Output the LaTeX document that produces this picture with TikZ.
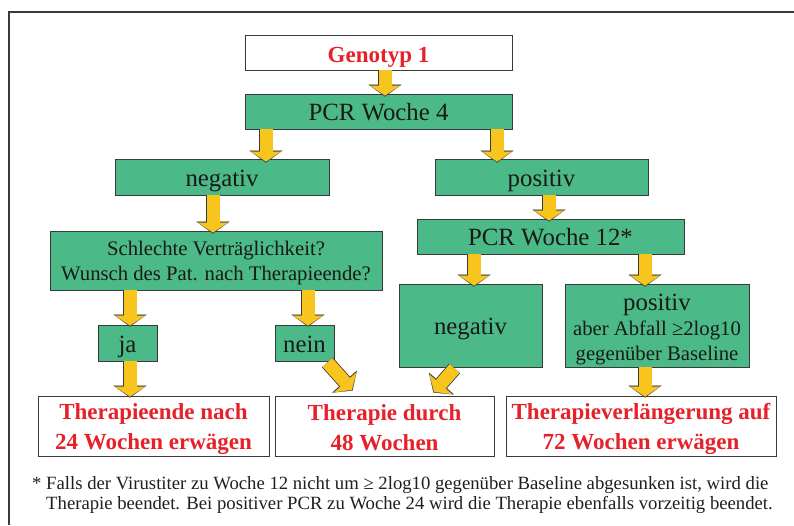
\documentclass[tikz,border=0pt]{standalone}
\usepackage{fontspec}
\setmainfont{Liberation Serif}
\usetikzlibrary{arrows.meta}

\definecolor{boxgreen}{HTML}{4BBA88}
\definecolor{arrowyellow}{HTML}{F7C51E}
\definecolor{titlered}{HTML}{E62129}
\definecolor{linegray}{HTML}{3A3A3A}

% struts to set the baselines of the two- and three-line boxes
\newcommand{\upstrut}[1]{\rule{0pt}{#1}}
\newcommand{\downstrut}[1]{\rule[-#1]{0pt}{#1}}

\tikzset{
  greenbox/.style={draw=linegray, line width=0.9pt, fill=boxgreen, inner sep=0pt,
    align=center, text=black!90, font=\fontsize{24.8}{28}\selectfont},
  redbox/.style={draw=linegray, line width=0.9pt, fill=white, inner sep=0pt,
    align=center, text=titlered, font=\fontsize{23}{30}\selectfont\bfseries},
  oneline/.style={text height=21pt, text depth=2.5pt},
  yarrow/.style={draw=arrowyellow, line width=13pt, shorten >=1pt,
    -{Triangle[length=10pt, width=30pt, line width=0.1pt]},
    preaction={draw=linegray, line width=14.6pt, shorten >=0pt,
      -{Triangle[length=12pt, width=33pt, line width=0.1pt]}}},
}

\begin{document}
\begin{tikzpicture}[x=1pt, y=-1pt]

% GLOBAL SETTINGS
\useasboundingbox (0,0) rectangle (794,525);
\fill[white] (0,0) rectangle (794,525);
\draw[linegray, line width=1.5pt] (9,525) -- (9,12) -- (794,12);

% BOXES
\node[redbox, text height=21pt, text depth=2pt,
  minimum width=267pt, minimum height=35pt] (geno) at (378.5,52.5) {Genotyp 1};
\node[greenbox, oneline, minimum width=267pt, minimum height=35pt] (pcr4) at (378.5,111.5) {PCR Woche 4};
\node[greenbox, oneline, minimum width=214pt, minimum height=36pt] (neg1) at (222,177) {negativ};
\node[greenbox, oneline, minimum width=213pt, minimum height=36pt] (pos1) at (541.5,177) {positiv};
\node[greenbox, minimum width=332pt, minimum height=59pt,
  font=\fontsize{20.7}{25}\selectfont] (schl) at (216,260.5)
  {\upstrut{18.5pt}Schlechte Verträglichkeit?\\Wunsch des Pat. nach Therapieende?\downstrut{4.5pt}};
\node[greenbox, oneline, minimum width=267pt, minimum height=35pt] (pcr12) at (550.5,236.5) {PCR Woche 12*};
\node[greenbox, oneline, minimum width=143pt, minimum height=83pt] (neg2) at (470.5,325.5) {negativ};
\node[greenbox, minimum width=184pt, minimum height=83pt,
  font=\fontsize{20.7}{25}\selectfont] (pos2) at (657,325.5)
  {\upstrut{23.5pt}{\fontsize{24.8}{25}\selectfont positiv}\\aber Abfall ≥2log10\\gegenüber Baseline\downstrut{4.5pt}};
\node[greenbox, oneline, minimum width=59pt, minimum height=36pt] (ja) at (127.5,343) {ja};
\node[greenbox, oneline, minimum width=59pt, minimum height=36pt] (nein) at (304.5,343) {nein};
\node[redbox, minimum width=231pt, minimum height=60pt] (end24) at (153.5,426)
  {\upstrut{23pt}Therapieende nach\\24 Wochen erwägen\downstrut{5pt}};
\node[redbox, minimum width=219pt, minimum height=60pt] (end48) at (384.5,426)
  {\upstrut{23pt}Therapie durch\\48 Wochen\downstrut{5pt}};
\node[redbox, minimum width=270pt, minimum height=60pt] (end72) at (641,426)
  {\upstrut{23pt}Therapieverlängerung auf\\72 Wochen erwägen\downstrut{5pt}};

% FOOTNOTE
\node[anchor=north west, inner sep=0pt, align=left, text=black!88,
  font=\fontsize{18.7}{20}\selectfont] (note) at (32,476)
  {*~Falls der Virustiter zu Woche 12 nicht um ≥ 2log10 gegenüber Baseline abgesunken ist, wird die\\
   \phantom{*~}Therapie beendet. Bei positiver PCR zu Woche 24 wird die Therapie ebenfalls vorzeitig beendet.};

% ARROWS
\draw[yarrow] ([xshift=6.5pt]geno.south) -- ([xshift=6.5pt, yshift=-3pt]pcr4.north);
\draw[yarrow] ([xshift=-112.5pt]pcr4.south) -- ([xshift=44pt, yshift=-4pt]neg1.north);
\draw[yarrow] ([xshift=118.5pt]pcr4.south) -- ([xshift=-44.5pt, yshift=-4pt]pos1.north);
\draw[yarrow] ([xshift=-9pt]neg1.south) -- ([xshift=-3pt, yshift=-3pt]schl.north);
\draw[yarrow] ([xshift=7.5pt]pos1.south) -- ([xshift=-1.5pt, yshift=-3pt]pcr12.north);
\draw[yarrow] ([xshift=-86pt]schl.south) -- ([xshift=2.5pt, yshift=-2pt]ja.north);
\draw[yarrow] ([xshift=92pt]schl.south) -- ([xshift=3.5pt, yshift=-2pt]nein.north);
\draw[yarrow] ([xshift=-76.5pt]pcr12.south) -- ([xshift=3.5pt, yshift=-3pt]neg2.north);
\draw[yarrow] ([xshift=94.5pt]pcr12.south) -- ([xshift=-12pt, yshift=-3pt]pos2.north);
\draw[yarrow] ([xshift=2.5pt]ja.south) -- ([xshift=-23.5pt, yshift=-2pt]end24.north);
\draw[yarrow] ([xshift=-12pt]pos2.south) -- ([xshift=4pt, yshift=-2pt]end72.north);
\draw[yarrow] ([xshift=-7pt, yshift=-1pt]nein.south east) -- ([xshift=78pt, yshift=5pt]end48.north west);
\draw[yarrow] ([xshift=56pt, yshift=-1pt]neg2.south west) -- ([xshift=-61pt, yshift=3pt]end48.north east);

\end{tikzpicture}
\end{document}
